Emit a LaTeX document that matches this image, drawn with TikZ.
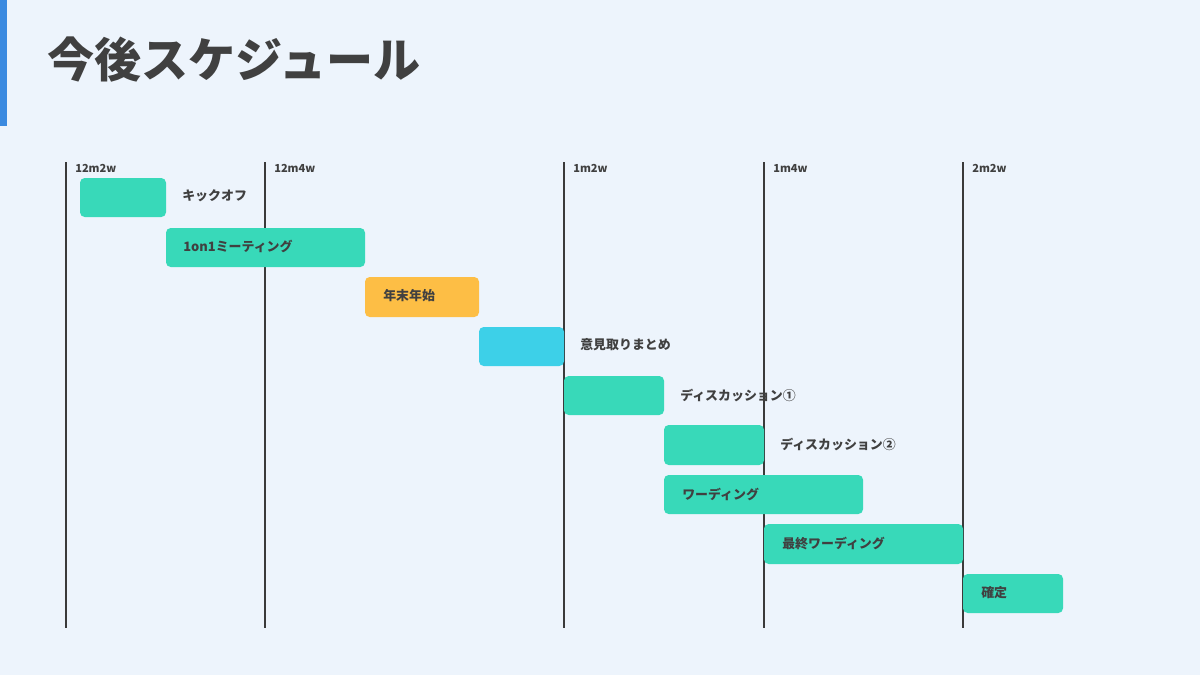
\documentclass[tikz,border=0pt]{standalone}
\usepackage{fontspec}
\setmainfont{Noto Sans CJK JP}
\definecolor{bg}{HTML}{EDF4FC}
\definecolor{accent}{HTML}{3B8AE0}
\definecolor{ink}{HTML}{404040}
\definecolor{grid}{HTML}{3A3A3A}
\definecolor{teal}{HTML}{38D9B9}
\definecolor{amber}{HTML}{FDBE45}
\definecolor{sky}{HTML}{3DD0E8}
\tikzset{
  bar/.style={rounded corners=3.5},
  lbl/.style={anchor=west, inner sep=0pt, text=ink, font=\bfseries\fontsize{9.7pt}{11pt}\selectfont},
  tick/.style={anchor=west, inner sep=0pt, text=ink, font=\bfseries\fontsize{8.3pt}{10pt}\selectfont},
  gridline/.style={draw=grid, line width=1.4pt},
}
\begin{document}
\begin{tikzpicture}[x=0.75pt,y=-0.75pt]
\useasboundingbox (0,0) rectangle (1200,675);
\fill[bg] (0,0) rectangle (1200,675);
\fill[accent] (0,0) rectangle (7,126);
\node[anchor=west, inner sep=0pt, text=ink, font=\bfseries\fontsize{35.3pt}{40pt}\selectfont] (title) at (47,60) {今後スケジュール};
% grid lines
\foreach \n/\x/\t in {a/66/12m2w, b/265/12m4w, c/564/1m2w, d/764/1m4w, e/963/2m2w}{
  \coordinate (\n top) at (\x,162);
  \coordinate (\n bot) at (\x,628);
  \draw[gridline] (\n top) -- (\n bot);
  \node[tick] (\n lab) at (\x+9,168) {\t};
}
% bars
\fill[teal, bar] (80,178) rectangle (166,217);
\node[lbl] (t1) at (182,196) {キックオフ};
\fill[teal, bar] (166,228) rectangle (365,267);
\node[lbl] (t2) at (183,246) {1on1ミーティング};
\fill[amber, bar] (365,277) rectangle (479,317);
\node[lbl] (t3) at (383,296) {年末年始};
\fill[sky, bar] (479,327) rectangle (564,366);
\node[lbl] (t4) at (580,345) {意見取りまとめ};
\fill[teal, bar] (564,376) rectangle (664,415);
\node[lbl] (t5) at (680,395) {ディスカッション①};
\fill[teal, bar] (664,425) rectangle (764,465);
\node[lbl] (t6) at (780,444) {ディスカッション②};
\fill[teal, bar] (664,475) rectangle (863,514);
\node[lbl] (t7) at (682,494) {ワーディング};
\fill[teal, bar] (764,524) rectangle (963,564);
\node[lbl] (t8) at (782,544) {最終ワーディング};
\fill[teal, bar] (963,574) rectangle (1063,613);
\node[lbl] (t9) at (981,593) {確定};
\end{tikzpicture}
\end{document}
